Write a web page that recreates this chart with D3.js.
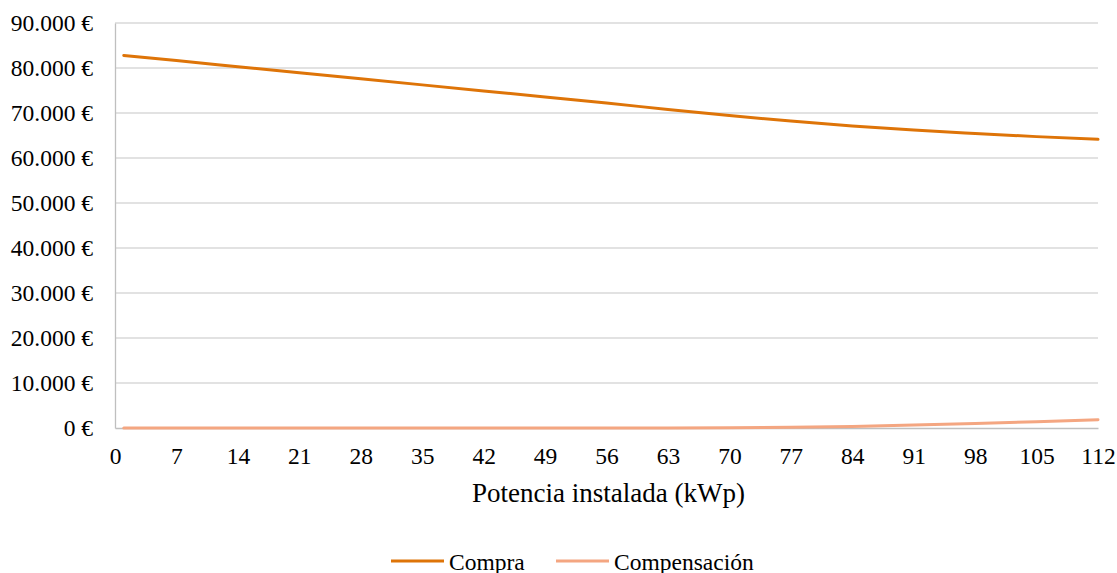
<!DOCTYPE html>
<html>
<head>
<meta charset="utf-8">
<script src="https://cdn.jsdelivr.net/npm/d3@7"></script>
<style>
  html, body { margin: 0; padding: 0; background: #fff; }
  svg text { font-family: "Liberation Serif", "Times New Roman", Tinos, "DejaVu Serif", serif !important; fill: #000; }
</style>
</head>
<body>
<svg id="chart" width="1117" height="573"></svg>
<script>
// Installed power (kWp) sampled along the x axis
const potencia = [1, 7, 14, 21, 28, 35, 42, 49, 56, 63, 70, 77, 84, 91, 98, 105, 112];
// Yearly cost of buying energy (€)
const compra = [82800, 81650, 80300, 78950, 77600, 76250, 74900, 73550, 72200, 70800, 69450, 68200, 67100, 66200, 65450, 64750, 64150];
// Compensation for surplus energy (€)
const compensacion = [0, 0, 0, 0, 0, 0, 0, 0, 0, 0, 50, 150, 350, 650, 1000, 1400, 1850];
// Axis ticks
const xTicks = d3.range(0, 113, 7);
const yTicks = d3.range(0, 90001, 10000);

const series = [
  { name: "Compra", values: compra, color: "#DE7408" },
  { name: "Compensación", values: compensacion, color: "#F4A681" }
];

const svg = d3.select("#chart");
const margin = { left: 115, right: 19, top: 23, bottom: 145 };
const W = 1117, H = 573;
const tickFont = 23.5;

const x = d3.scaleLinear().domain([0, 112]).range([margin.left, W - margin.right]);
const y = d3.scaleLinear().domain([0, 90000]).range([H - margin.bottom, margin.top]);

const fmt = v => d3.format(",")(v).replace(/,/g, ".") + " €";

// Horizontal gridlines
svg.append("g")
  .selectAll("line")
  .data(yTicks.filter(d => d > 0))
  .join("line")
  .attr("x1", x(0)).attr("x2", x(112))
  .attr("y1", d => y(d)).attr("y2", d => y(d))
  .attr("stroke", "#D9D9D9").attr("stroke-width", 1.3);

// Y axis
const yAxis = svg.append("g")
  .attr("transform", `translate(${x(0)},0)`)
  .call(d3.axisLeft(y).tickValues(yTicks).tickFormat(fmt).tickSize(0).tickPadding(22));
yAxis.select(".domain").attr("stroke", "#BFBFBF").attr("stroke-width", 1.3);
yAxis.selectAll("text").attr("font-size", tickFont);

// X axis
const xAxis = svg.append("g")
  .attr("transform", `translate(0,${y(0)})`)
  .call(d3.axisBottom(x).tickValues(xTicks).tickFormat(d3.format("d")).tickSize(0).tickPadding(19));
xAxis.select(".domain").attr("stroke", "#BFBFBF").attr("stroke-width", 1.3);
xAxis.selectAll("text").attr("font-size", tickFont);

// X axis title
svg.append("text")
  .attr("x", (x(0) + x(112)) / 2 + 2)
  .attr("y", 502)
  .attr("text-anchor", "middle")
  .attr("font-size", 27)
  .text("Potencia instalada (kWp)");

// Series lines
const line = d3.line().curve(d3.curveMonotoneX);
svg.append("g")
  .selectAll("path")
  .data(series)
  .join("path")
  .attr("fill", "none")
  .attr("stroke", d => d.color)
  .attr("stroke-width", 3)
  .attr("stroke-linecap", "round")
  .attr("d", d => line(potencia.map((p, i) => [x(p), y(d.values[i])])));

// Legend
const legendPos = [391, 556];
const legend = svg.append("g")
  .selectAll("g")
  .data(series)
  .join("g")
  .attr("transform", (d, i) => `translate(${legendPos[i]},561)`);
legend.append("line")
  .attr("x1", 0).attr("x2", 53)
  .attr("stroke", d => d.color).attr("stroke-width", 3);
legend.append("text")
  .attr("x", 58).attr("y", 8.5)
  .attr("font-size", tickFont)
  .text(d => d.name);
</script>
</body>
</html>
